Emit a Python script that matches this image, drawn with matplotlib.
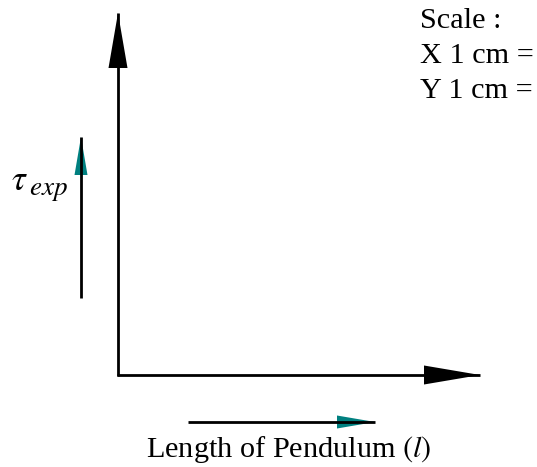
import matplotlib
matplotlib.use("Agg")
import matplotlib.pyplot as plt

# pixel canvas of the sketch (x right, y down)
canvas_w, canvas_h = 537, 467

# arrows: (tail x, tail y, tip x, tip y, head length, head width, head colour)
axis_arrows = [
    (118, 376, 118, 13, 55, 19, "black"),     # main y axis
    (117, 375, 480, 375, 56, 19, "black"),    # main x axis
]
hint_arrows = [
    (81, 298, 81, 137, 38, 13, "#008080"),    # small arrow beside tau
    (188, 422, 375, 422, 38, 13, "#008080"),  # small arrow above x label
]

scale_lines = ["Scale :", "X 1 cm =", "Y 1 cm ="]
y_symbol = r"$\tau$"
y_sub = r"$exp$"
x_label = r"Length of Pendulum $(l)$"

plt.rcParams["font.family"] = ["Liberation Serif", "DejaVu Serif"]
plt.rcParams["mathtext.fontset"] = "stix"

fig = plt.figure(figsize=(canvas_w / 100, canvas_h / 100), dpi=100)
ax = fig.add_axes([0, 0, 1, 1])
ax.set_xlim(0, canvas_w)
ax.set_ylim(canvas_h, 0)
ax.axis("off")


def draw_arrow(x0, y0, x1, y1, hl, hw, color):
    dx, dy = x1 - x0, y1 - y0
    n = (dx ** 2 + dy ** 2) ** 0.5
    ux, uy = dx / n, dy / n
    bx, by = x1 - ux * hl, y1 - uy * hl
    px, py = -uy * hw / 2, ux * hw / 2
    ax.fill([x1, bx + px, bx - px], [y1, by + py, by - py],
            color=color, lw=0, zorder=2)
    ax.plot([x0, x1], [y0, y1], color="black", lw=2.0,
            solid_capstyle="butt", zorder=3)


for a in axis_arrows + hint_arrows:
    draw_arrow(*a)

for i, s in enumerate(scale_lines):
    ax.text(420, 28 + 35 * i, s, fontsize=21.8, va="baseline", ha="left")

# tau with a large "exp" subscript, as in the original equation font
tau = ax.text(11, 190, y_symbol, fontsize=25, va="baseline", ha="left")
fig.canvas.draw()
bb = tau.get_window_extent().transformed(ax.transData.inverted())
ax.text(bb.x1 + 1, 195, y_sub, fontsize=19.5, va="baseline", ha="left")
ax.text(289, 457, x_label, fontsize=21.8, va="baseline", ha="center")

fig.savefig("out.png", dpi=100)
